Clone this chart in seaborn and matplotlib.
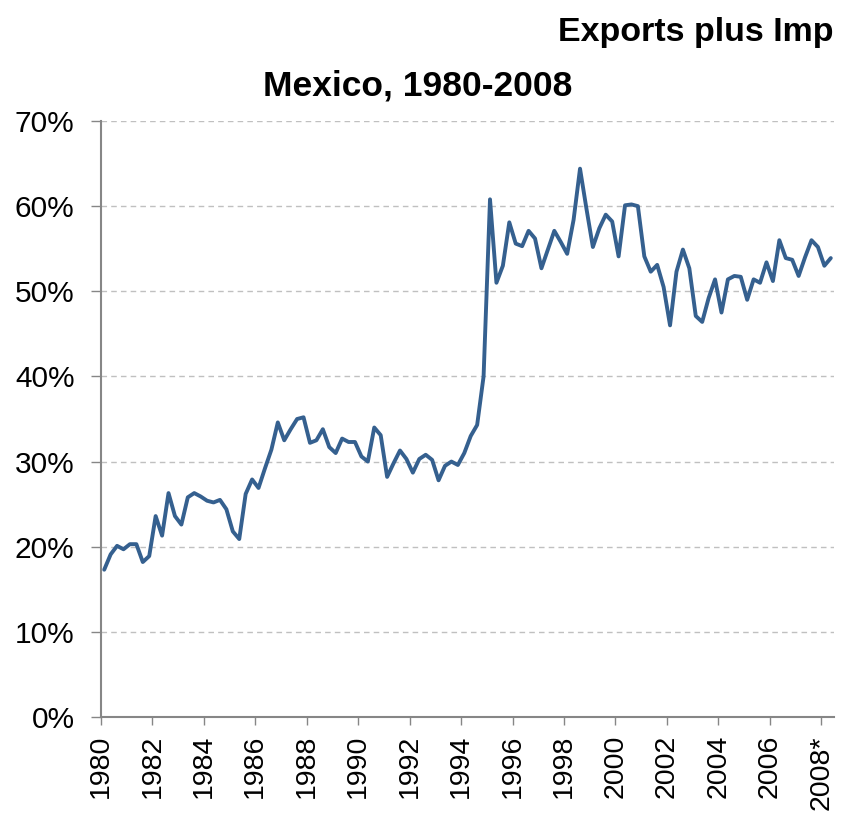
import matplotlib
matplotlib.use("Agg")
import matplotlib.pyplot as plt
import seaborn as sns
import pandas as pd
import numpy as np

# Quarterly data, 1980Q1 - 2008Q2 (trade as % of GDP)
values = [
    17.3, 19.1, 20.1, 19.7, 20.3, 20.3, 18.2, 18.9,   # 1980-81
    23.6, 21.3, 26.3, 23.6, 22.6, 25.8, 26.3, 25.9,   # 1982-83
    25.4, 25.2, 25.5, 24.4, 21.8, 20.9, 26.2, 27.9,   # 1984-85
    26.9, 29.2, 31.4, 34.6, 32.5, 33.8, 35.0, 35.2,   # 1986-87
    32.2, 32.5, 33.8, 31.7, 31.0, 32.7, 32.3, 32.3,   # 1988-89
    30.6, 30.0, 34.0, 33.1, 28.2, 29.8, 31.3, 30.3,   # 1990-91
    28.7, 30.3, 30.8, 30.2, 27.8, 29.5, 30.0, 29.6,   # 1992-93
    31.0, 33.0, 34.3, 40.0, 60.8, 51.0, 53.0, 58.1,   # 1994-95
    55.6, 55.3, 57.1, 56.2, 52.7, 54.9, 57.1, 55.8,   # 1996-97
    54.4, 58.4, 64.4, 59.7, 55.2, 57.4, 59.0, 58.2,   # 1998-99
    54.1, 60.1, 60.2, 60.0, 54.1, 52.3, 53.1, 50.5,   # 2000-01
    46.0, 52.3, 54.9, 52.7, 47.1, 46.4, 49.2, 51.4,   # 2002-03
    47.5, 51.4, 51.8, 51.7, 49.0, 51.4, 51.0, 53.4,   # 2004-05
    51.2, 56.0, 53.9, 53.7, 51.8, 54.0, 56.0, 55.2,   # 2006-07
    53.0, 53.9,                                       # 2008
]
year_labels = ["1980", "1982", "1984", "1986", "1988", "1990", "1992",
               "1994", "1996", "1998", "2000", "2002", "2004", "2006", "2008*"]
y_ticks = [0, 10, 20, 30, 40, 50, 60, 70]

df = pd.DataFrame({"q": np.arange(len(values)), "v": values})

sns.set_theme(style="white")
plt.rcParams["font.family"] = ["Liberation Sans", "DejaVu Sans"]

fig = plt.figure(figsize=(8.46, 8.22), dpi=100)
ax = fig.add_axes([101 / 846, 1 - 717 / 822, (834 - 101) / 846, (717 - 121) / 822])

sns.lineplot(data=df, x="q", y="v", ax=ax, color="#35608f", linewidth=2.8)

ax.set_xlim(-0.5, len(values) - 0.5)
ax.set_ylim(0, 70)
ax.set_yticks(y_ticks)
ax.set_yticklabels([f"{t}%" for t in y_ticks], fontsize=21.5, color="black")
ax.set_xticks([-0.5 + 8 * k for k in range(len(year_labels))])
ax.set_xticklabels(year_labels, rotation=90, fontsize=20.5, color="black")
ax.set_xlabel("")
ax.set_ylabel("")

ax.yaxis.grid(True, linestyle=(0, (4, 3)), color="#c0c0c0", linewidth=1)
ax.xaxis.grid(False)
for s in ["top", "right"]:
    ax.spines[s].set_visible(False)
for s in ["left", "bottom"]:
    ax.spines[s].set_color("#868686")
    ax.spines[s].set_linewidth(1.5)
ax.tick_params(axis="y", which="major", direction="out", length=7,
               width=1, color="#868686", pad=12, left=True)
ax.tick_params(axis="x", which="major", direction="out", length=6,
               width=1, color="#868686", pad=7, bottom=True)

fig.text(558 / 846, 1 - 33 / 822, "Exports plus Imp", fontsize=24.5,
         fontweight="bold", ha="left", va="center", color="black")
fig.text(418 / 846, 1 - 86 / 822, "Mexico, 1980-2008", fontsize=25.5,
         fontweight="bold", ha="center", va="center", color="black")

fig.savefig("out.png", dpi=100)
